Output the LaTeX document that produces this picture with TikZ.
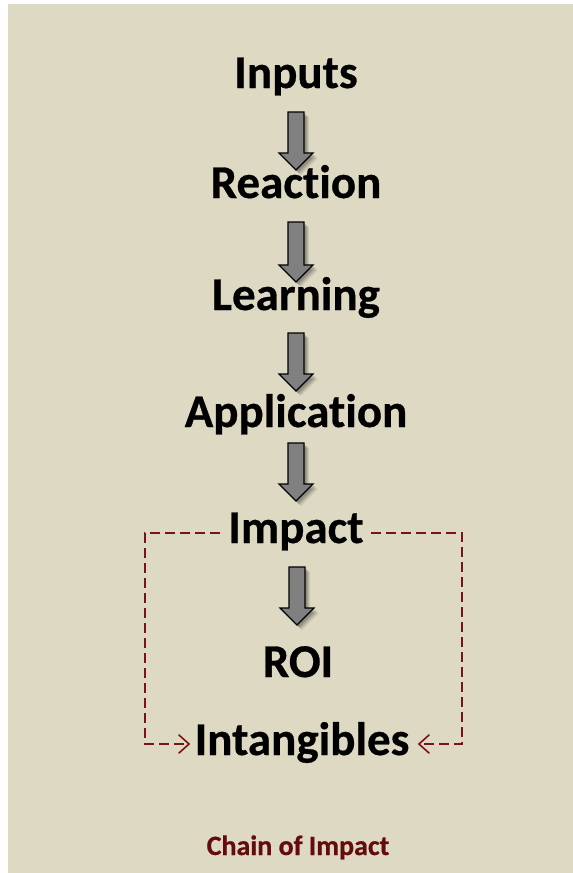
\documentclass[tikz,border=0pt]{standalone}
\usepackage{fontspec}
\setmainfont{Carlito}[RawFeature={-liga;-clig;-calt;-dlig}, BoldFeatures={FakeBold=0.6}]
\usetikzlibrary{arrows.meta}
\definecolor{paper}{HTML}{DDD9C3}
\definecolor{linkred}{HTML}{7A1414}
\definecolor{captionred}{HTML}{640C0C}
\definecolor{arrowgray}{HTML}{808080}
\tikzset{
  stage/.style={font=\fontsize{47}{52}\selectfont\bfseries, text=black, inner sep=0pt, anchor=base},
  caption/.style={font=\fontsize{28}{32}\selectfont\bfseries, text=captionred, inner sep=0pt, anchor=base},
  link/.style={draw=linkred, line width=1.4pt, dash pattern=on 10pt off 5pt},
  linkhead/.style={draw=linkred, line width=1.6pt, line cap=round, line join=miter},
}
% block arrow pointing down, top centre at #1, length #2
\newcommand{\downarrowblock}[2]{%
  \begin{scope}[shift={#1}]
    \foreach \d/\o in {5/0.07,4/0.09,3/0.11,2/0.13}{
      \fill[black, opacity=\o, shift={(\d,\d)}]
        (-8,0) -- (8,0) -- (8,#2-17) -- (17,#2-17) -- (0,#2) -- (-17,#2-17) -- (-8,#2-17) -- cycle;
    }
    \filldraw[fill=arrowgray, draw=black, line width=1.2pt, line join=miter]
      (-8,0) -- (8,0) -- (8,#2-17) -- (17,#2-17) -- (0,#2) -- (-17,#2-17) -- (-8,#2-17) -- cycle;
  \end{scope}}
\begin{document}
\begin{tikzpicture}[x=1pt,y=-1pt]
  \useasboundingbox (0,0) rectangle (573,873);
  \fill[paper] (8,4) rectangle (573,873);

  \node[stage] (inputs) at (296,88) {Inputs};
  \node[stage] (reaction) at (296,198) {Reaction};
  \node[stage] (learning) at (296,310) {Learning};
  \node[stage] (application) at (296,427) {Application};
  \node[stage] (impact) at (296,543) {Impact};
  \node[stage] (roi) at (298,677) {ROI};
  \node[stage] (intangibles) at (302,755) {Intangibles};
  \node[caption] (chain) at (298,855) {Chain of Impact};

  \downarrowblock{(296,112)}{58}
  \downarrowblock{(296,222)}{60}
  \downarrowblock{(296,333)}{58}
  \downarrowblock{(296,443)}{58}
  \downarrowblock{(297,567)}{58}

  \coordinate (lcorner) at (145,533);
  \coordinate (lbottom) at (145,744);
  \coordinate (rcorner) at (462,533);
  \coordinate (rbottom) at (462,744);
  \coordinate (ltip) at (189,744);
  \coordinate (rtip) at (419,744);

  \draw[link] (220,533) -- (lcorner) -- (lbottom) -- (ltip);
  \draw[link] (371,533) -- (rcorner) -- (rbottom) -- (rtip);
  \draw[linkhead] (179,735) -- (ltip) -- (179,753);
  \draw[linkhead] (429,735) -- (rtip) -- (429,753);
\end{tikzpicture}
\end{document}
